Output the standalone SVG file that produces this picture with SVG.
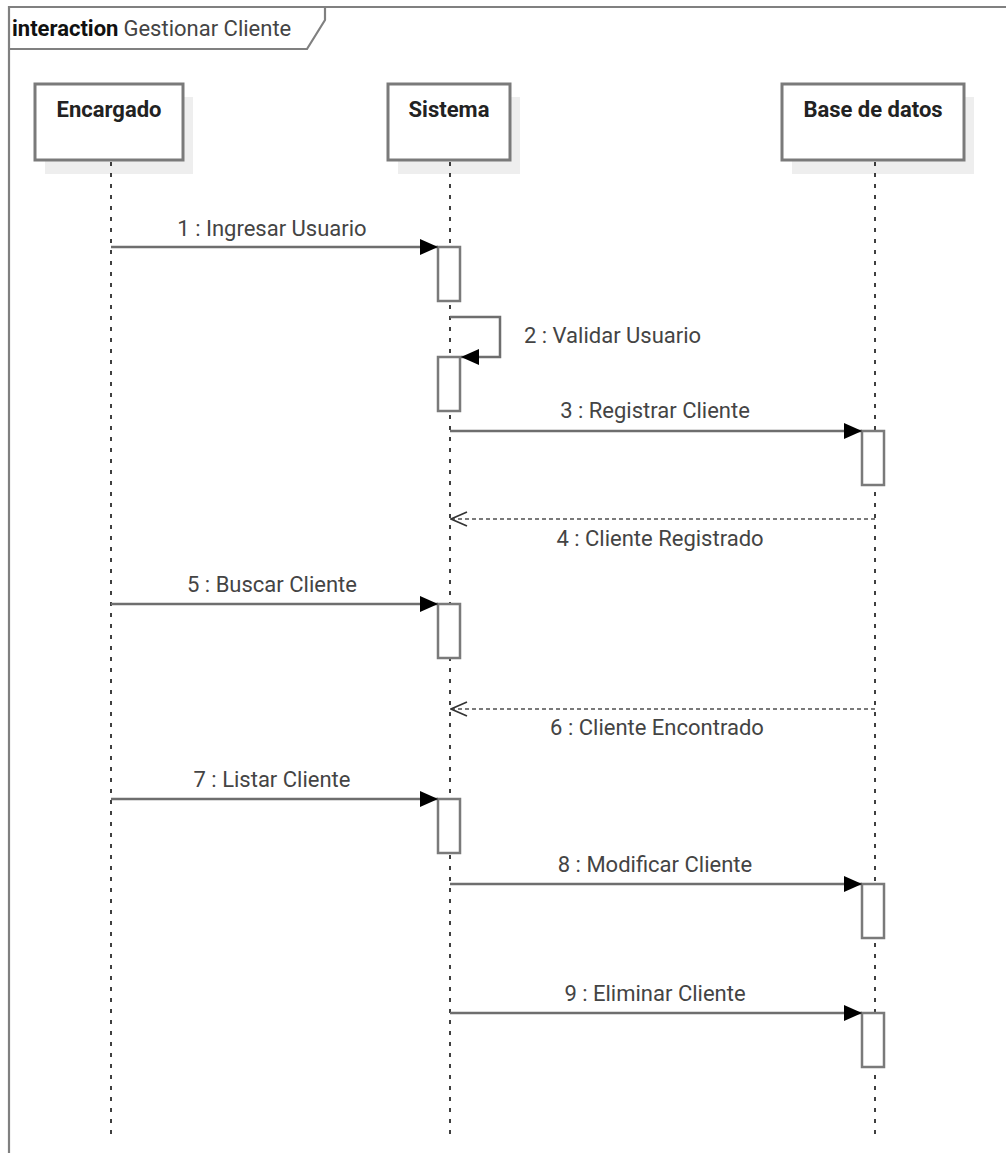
<svg xmlns="http://www.w3.org/2000/svg" width="1006" height="1153" viewBox="0 0 1006 1153">
  <style>
    text { font-family: Roboto, "Liberation Sans", sans-serif; }
    .frame { fill: none; stroke: #808080; stroke-width: 2.2; }
    .title-kw { font-weight: bold; font-size: 22px; fill: #111; }
    .title { font-size: 22px; fill: #444; }
    .head { fill: #fff; stroke: #7a7a7a; stroke-width: 3; }
    .shadow { fill: #eeeeee; }
    .head-label { font-weight: bold; font-size: 22px; fill: #222; text-anchor: middle; }
    .lifeline { stroke: #000; stroke-width: 1.5; stroke-dasharray: 4 7; fill: none; }
    .act { fill: #fff; stroke: #7a7a7a; stroke-width: 2.5; }
    .msg { fill: none; stroke: #6e6e6e; stroke-width: 2.5; }
    .ret { fill: none; stroke: #7a7a7a; stroke-width: 2.2; stroke-dasharray: 4 3; }
    .label { font-size: 22px; fill: #444; text-anchor: middle; }
    .label-start { font-size: 22px; fill: #444; }
  </style>
  <defs>
    <marker id="solid" viewBox="0 0 18 16" refX="18" refY="8" markerWidth="18" markerHeight="16" markerUnits="userSpaceOnUse" orient="auto">
      <path d="M0,0 L18,8 L0,16 z" fill="#000"/>
    </marker>
    <marker id="open" viewBox="0 0 18 16" refX="17" refY="8" markerWidth="18" markerHeight="16" markerUnits="userSpaceOnUse" orient="auto">
      <path d="M1,1 L17,8 L1,15" fill="none" stroke="#333" stroke-width="1.6"/>
    </marker>
  </defs>

  <rect width="1006" height="1153" fill="#fff"/>

  <!-- interaction frame with its name tab -->
  <g id="frame">
    <path class="frame" d="M1006,7 H9 V1153"/>
    <path class="frame" d="M9,7 H325 V20 L307,49 H9"/>
    <text x="12" y="36"><tspan class="title-kw">interaction</tspan><tspan class="title" dx="5">Gestionar Cliente</tspan></text>
  </g>

  <!-- lifelines -->
  <g id="encargado">
    <rect class="shadow" x="45" y="97" width="148" height="77"/>
    <rect class="head" x="35" y="84" width="148" height="76"/>
    <text class="head-label" x="109" y="117">Encargado</text>
    <line class="lifeline" x1="111" y1="162" x2="111" y2="1135"/>
  </g>
  <g id="sistema">
    <rect class="shadow" x="398" y="97" width="122" height="77"/>
    <rect class="head" x="388" y="84" width="122" height="76"/>
    <text class="head-label" x="449" y="117">Sistema</text>
    <line class="lifeline" x1="450" y1="162" x2="450" y2="1135"/>
  </g>
  <g id="base-de-datos">
    <rect class="shadow" x="792" y="97" width="182" height="77"/>
    <rect class="head" x="782" y="84" width="182" height="76"/>
    <text class="head-label" x="873" y="117">Base de datos</text>
    <line class="lifeline" x1="875" y1="162" x2="875" y2="1135"/>
  </g>

  <!-- activation bars -->
  <g id="activations">
    <rect class="act" x="438" y="247" width="22" height="54"/>
    <rect class="act" x="438" y="357" width="22" height="54"/>
    <rect class="act" x="862" y="431" width="22" height="54"/>
    <rect class="act" x="438" y="604" width="22" height="54"/>
    <rect class="act" x="438" y="799" width="22" height="54"/>
    <rect class="act" x="862" y="884" width="22" height="54"/>
    <rect class="act" x="862" y="1013" width="22" height="54"/>
  </g>

  <!-- messages -->
  <g id="connectors">
    <line class="msg" x1="111" y1="247" x2="438" y2="247" marker-end="url(#solid)"/>
    <text class="label" x="272" y="236">1 : Ingresar Usuario</text>

    <path class="msg" d="M450,317 H500 V357 H461" marker-end="url(#solid)"/>
    <text class="label-start" x="524" y="343">2 : Validar Usuario</text>

    <line class="msg" x1="450" y1="431" x2="862" y2="431" marker-end="url(#solid)"/>
    <text class="label" x="655" y="418">3 : Registrar Cliente</text>

    <line class="ret" x1="875" y1="519" x2="451" y2="519" marker-end="url(#open)"/>
    <text class="label" x="660" y="546">4 : Cliente Registrado</text>

    <line class="msg" x1="111" y1="604" x2="438" y2="604" marker-end="url(#solid)"/>
    <text class="label" x="272" y="592">5 : Buscar Cliente</text>

    <line class="ret" x1="875" y1="709" x2="451" y2="709" marker-end="url(#open)"/>
    <text class="label" x="657" y="735">6 : Cliente Encontrado</text>

    <line class="msg" x1="111" y1="799" x2="438" y2="799" marker-end="url(#solid)"/>
    <text class="label" x="272" y="787">7 : Listar Cliente</text>

    <line class="msg" x1="450" y1="884" x2="862" y2="884" marker-end="url(#solid)"/>
    <text class="label" x="655" y="872">8 : Modificar Cliente</text>

    <line class="msg" x1="450" y1="1013" x2="862" y2="1013" marker-end="url(#solid)"/>
    <text class="label" x="655" y="1001">9 : Eliminar Cliente</text>
  </g>
</svg>
